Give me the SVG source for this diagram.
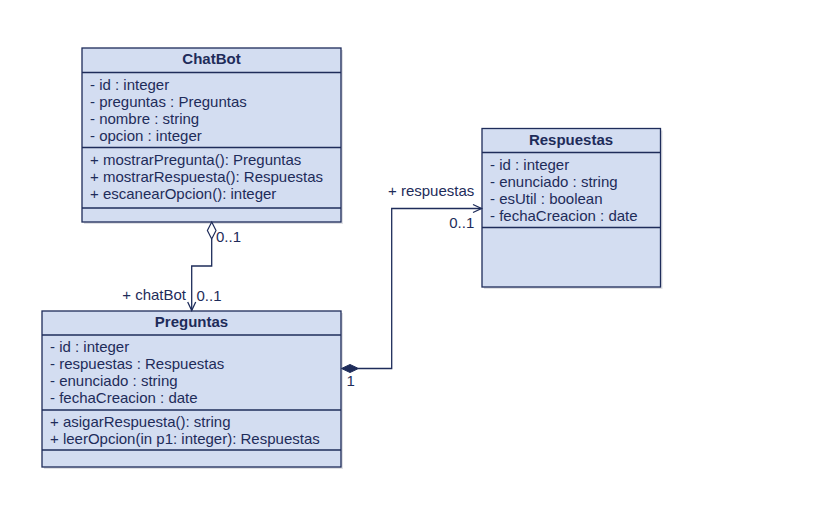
<svg xmlns="http://www.w3.org/2000/svg" width="838" height="507" viewBox="0 0 838 507">
<defs>
<style>
.box{fill:#D3DDF1;stroke:#1E2C5A;stroke-width:1.3}
.shadow{fill:#C9CCD4;opacity:0.6}
.div{stroke:#1E2C5A;stroke-width:1.3}
.t{font-family:"Liberation Sans",Arial,sans-serif;font-size:15px;fill:#1E2C5A}
.h{font-family:"Liberation Sans",Arial,sans-serif;font-size:15px;font-weight:bold;fill:#1E2C5A;text-anchor:middle}
.c{fill:none;stroke:#1E2C5A;stroke-width:1.3}
</style>
</defs>
<rect width="838" height="507" fill="#FFFFFF"/>

<g id="ChatBot">
<rect class="shadow" x="84" y="50" width="259" height="174"/>
<rect class="box" x="82" y="48" width="259" height="174"/>
<line class="div" x1="82" y1="72.5" x2="341" y2="72.5"/>
<line class="div" x1="82" y1="147.5" x2="341" y2="147.5"/>
<line class="div" x1="82" y1="208" x2="341" y2="208"/>
<text class="h" x="211.5" y="64">ChatBot</text>
<text class="t" x="90" y="90">- id : integer</text>
<text class="t" x="90" y="107">- preguntas : Preguntas</text>
<text class="t" x="90" y="124">- nombre : string</text>
<text class="t" x="90" y="141">- opcion : integer</text>
<text class="t" x="90" y="165">+ mostrarPregunta(): Preguntas</text>
<text class="t" x="90" y="182">+ mostrarRespuesta(): Respuestas</text>
<text class="t" x="90" y="199">+ escanearOpcion(): integer</text>
</g>

<g id="Preguntas">
<rect class="shadow" x="44" y="313" width="299" height="156"/>
<rect class="box" x="42" y="311" width="299" height="156"/>
<line class="div" x1="42" y1="335" x2="341" y2="335"/>
<line class="div" x1="42" y1="410" x2="341" y2="410"/>
<line class="div" x1="42" y1="450" x2="341" y2="450"/>
<text class="h" x="191.5" y="327">Preguntas</text>
<text class="t" x="50" y="352">- id : integer</text>
<text class="t" x="50" y="369">- respuestas : Respuestas</text>
<text class="t" x="50" y="386">- enunciado : string</text>
<text class="t" x="50" y="403">- fechaCreacion : date</text>
<text class="t" x="50" y="427">+ asigarRespuesta(): string</text>
<text class="t" x="50" y="444">+ leerOpcion(in p1: integer): Respuestas</text>
</g>

<g id="Respuestas">
<rect class="shadow" x="484" y="130.5" width="178.5" height="158.5"/>
<rect class="box" x="482" y="128.5" width="178.5" height="158.5"/>
<line class="div" x1="482" y1="152.5" x2="660.5" y2="152.5"/>
<line class="div" x1="482" y1="227.5" x2="660.5" y2="227.5"/>
<text class="h" x="571" y="145">Respuestas</text>
<text class="t" x="490" y="170">- id : integer</text>
<text class="t" x="490" y="187">- enunciado : string</text>
<text class="t" x="490" y="204">- esUtil : boolean</text>
<text class="t" x="490" y="221">- fechaCreacion : date</text>
</g>

<g id="connectors">
<!-- ChatBot aggregation to Preguntas -->
<polyline class="c" points="211.7,239 211.7,266 191.7,266 191.7,310.5"/>
<polygon points="211.7,222 216,230.5 211.7,239 207.4,230.5" fill="#FFFFFF" stroke="#1E2C5A" stroke-width="1.2"/>
<polyline class="c" points="187.7,302 191.7,310.5 195.7,302"/>
<text class="t" x="216" y="242">0..1</text>
<text class="t" x="186" y="300" text-anchor="end">+ chatBot</text>
<text class="t" x="196.5" y="301">0..1</text>

<!-- Preguntas composition to Respuestas -->
<polyline class="c" points="358,368.5 391.7,368.5 391.7,208.5 481.5,208.5"/>
<polygon points="341.5,368.5 350,364.5 358.5,368.5 350,372.5" fill="#1E2C5A" stroke="#1E2C5A" stroke-width="1"/>
<polyline class="c" points="473,204.5 481.5,208.5 473,212.5"/>
<text class="t" x="474.3" y="196" text-anchor="end">+ respuestas</text>
<text class="t" x="474.3" y="227.5" text-anchor="end">0..1</text>
<text class="t" x="346.5" y="386">1</text>
</g>
</svg>
